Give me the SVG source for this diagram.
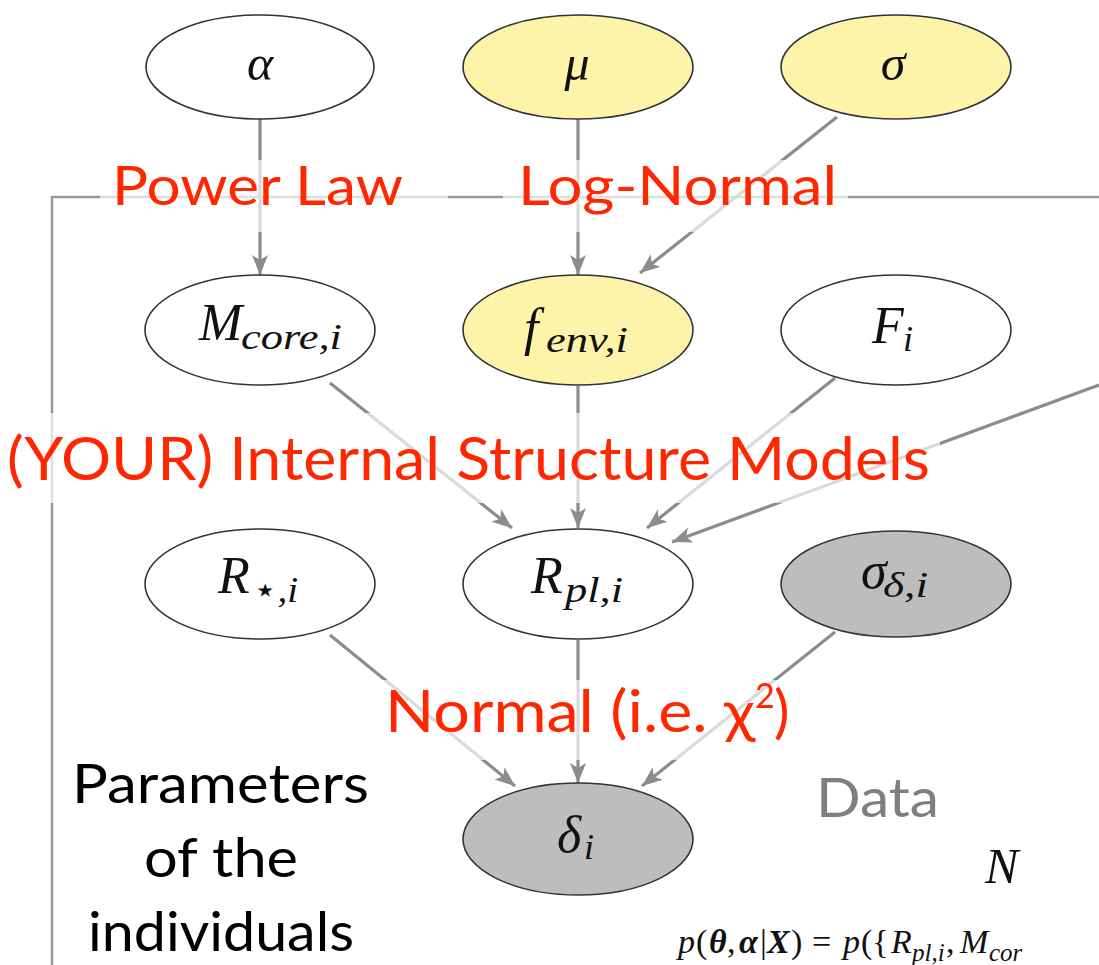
<svg xmlns="http://www.w3.org/2000/svg" width="1099" height="965" viewBox="0 0 1099 965">
<style>
.nd{stroke:#333;stroke-width:1.6}
.w{fill:#ffffff}.y{fill:#fdf3a9}.g{fill:#bdbdbd}
.m{font-family:"Liberation Serif","DejaVu Serif",serif;font-style:italic;fill:#111}
.ed{stroke:#8c8c8c;stroke-width:3.2;fill:none;marker-end:url(#ah)}
.plate{stroke:#9a9a9a;stroke-width:2.5;fill:none}
.box{fill:#ffffff;fill-opacity:0.68}
.red{font-family:Lato,"Open Sans",sans-serif;fill:#ff2600}
.blk{font-family:Lato,"Open Sans",sans-serif;fill:#000}
.f{font-family:"Liberation Serif",serif;font-size:34px;fill:#111}
.fi{font-style:italic}
.fb{font-style:italic;font-weight:bold}
.fs{font-style:italic;font-size:25px}
</style>
<defs>
<marker id="ah" markerUnits="userSpaceOnUse" markerWidth="22" markerHeight="18" refX="20" refY="8" orient="auto">
<path d="M0,0 L20,8 L0,16 L5,8 Z" fill="#8c8c8c"/>
</marker>
</defs>
<g id="plate">
<path class="plate" d="M52,965 L52,197 L1099,197"/>
</g>
<g id="connectors">
<line class="ed" x1="260" y1="119" x2="260" y2="275"/>
<line class="ed" x1="578" y1="119" x2="578" y2="275"/>
<line class="ed" x1="837" y1="117" x2="640" y2="273"/>
<line class="ed" x1="330" y1="383" x2="512" y2="528"/>
<line class="ed" x1="578" y1="386" x2="578" y2="528"/>
<line class="ed" x1="835" y1="378" x2="647" y2="528"/>
<line class="ed" x1="1099" y1="385" x2="672" y2="542"/>
<line class="ed" x1="330" y1="635" x2="515" y2="786"/>
<line class="ed" x1="578" y1="640" x2="578" y2="783"/>
<line class="ed" x1="835" y1="632" x2="642" y2="786"/>
</g>
<g id="labels">
<rect class="box" x="100" y="160" width="348" height="72"/>
<rect class="box" x="503" y="160" width="345" height="72"/>
<rect class="box" x="0" y="413" width="940" height="90"/>
<rect class="box" x="370" y="680" width="435" height="80"/>
<text class="red" x="112" y="205" font-size="54" textLength="291" lengthAdjust="spacingAndGlyphs">Power Law</text>
<text class="red" x="518" y="205" font-size="54" textLength="319" lengthAdjust="spacingAndGlyphs">Log-Normal</text>
<text class="red" x="7" y="480" font-size="60" textLength="923" lengthAdjust="spacingAndGlyphs">(YOUR) Internal Structure Models</text>
<text class="red" x="385" y="732" font-size="58" textLength="370" lengthAdjust="spacingAndGlyphs">Normal (i.e. χ</text>
<text class="red" x="755" y="708" font-size="34">2</text>
<text class="red" x="774" y="732" font-size="58">)</text>
<text class="blk" x="72" y="803" font-size="55" textLength="297" lengthAdjust="spacingAndGlyphs">Parameters</text>
<text class="blk" x="144" y="877" font-size="55" textLength="154" lengthAdjust="spacingAndGlyphs">of the</text>
<text class="blk" x="88" y="951" font-size="55" textLength="266" lengthAdjust="spacingAndGlyphs">individuals</text>
<text x="816" y="817" font-size="55" textLength="123" lengthAdjust="spacingAndGlyphs" style="font-family:Lato,'Open Sans',sans-serif;fill:#7f7f7f">Data</text>
<text class="m" x="985" y="883" font-size="50">N</text>
<text class="f"><tspan x="678" y="953" class="fi">p</tspan><tspan x="696" y="953">(</tspan><tspan x="709" y="953" class="fb">θ</tspan><tspan x="727" y="953">,</tspan><tspan x="739" y="953" class="fb">α</tspan><tspan x="760" y="953">|</tspan><tspan x="767" y="953" class="fb">X</tspan><tspan x="791" y="953">)</tspan><tspan x="812" y="953">=</tspan><tspan x="843" y="953" class="fi">p</tspan><tspan x="861" y="953">({</tspan><tspan x="891" y="953" class="fi">R</tspan><tspan x="912" y="961" class="fs">pl,i</tspan><tspan x="946" y="953">,</tspan><tspan x="960" y="953" class="fi">M</tspan><tspan x="989" y="961" class="fs">cor</tspan></text>
</g>
<g id="n-alpha"><ellipse class="nd w" cx="260" cy="67" rx="114" ry="52"/><text class="m" x="260" y="80" font-size="50" text-anchor="middle">α</text></g>
<g id="n-mu"><ellipse class="nd y" cx="578" cy="67" rx="115" ry="52"/><text class="m" x="577" y="80" font-size="50" text-anchor="middle">μ</text></g>
<g id="n-sigma"><ellipse class="nd y" cx="896" cy="67" rx="115" ry="52"/><text class="m" x="893" y="80" font-size="50" text-anchor="middle">σ</text></g>
<g id="n-mcore"><ellipse class="nd w" cx="260" cy="330" rx="115" ry="55"/><text class="m" x="199" y="340" font-size="52">M</text><text class="m" x="241" y="349" font-size="36" textLength="101" lengthAdjust="spacingAndGlyphs">core,i</text></g>
<g id="n-fenv"><ellipse class="nd y" cx="578" cy="330" rx="115" ry="55"/><text class="m" x="524" y="345" font-size="52">f</text><text class="m" x="546" y="352" font-size="36" textLength="82" lengthAdjust="spacingAndGlyphs">env,i</text></g>
<g id="n-F"><ellipse class="nd w" cx="896" cy="330" rx="115" ry="55"/><text class="m" x="872" y="343" font-size="52">F</text><text class="m" x="903" y="351" font-size="36">i</text></g>
<g id="n-rstar"><ellipse class="nd w" cx="260" cy="584" rx="115" ry="55"/><text class="m" x="218" y="593" font-size="52">R</text><text x="253" y="602" font-size="36" textLength="45" lengthAdjust="spacingAndGlyphs" style="font-family:'Liberation Serif','DejaVu Sans',serif;font-style:italic;fill:#111">⋆,i</text></g>
<g id="n-rpl"><ellipse class="nd w" cx="578" cy="584" rx="115" ry="55"/><text class="m" x="531" y="593" font-size="52">R</text><text class="m" x="565" y="602" font-size="36" textLength="58" lengthAdjust="spacingAndGlyphs">pl,i</text></g>
<g id="n-sigd"><ellipse class="nd g" cx="896" cy="584" rx="115" ry="53"/><text class="m" x="861" y="588" font-size="52">σ</text><text class="m" x="883" y="597" font-size="36" textLength="45" lengthAdjust="spacingAndGlyphs">δ,i</text></g>
<g id="n-delta"><ellipse class="nd g" cx="578" cy="839" rx="115" ry="56"/><text class="m" x="557" y="852" font-size="52">δ</text><text class="m" x="584" y="859" font-size="36">i</text></g>
</svg>
